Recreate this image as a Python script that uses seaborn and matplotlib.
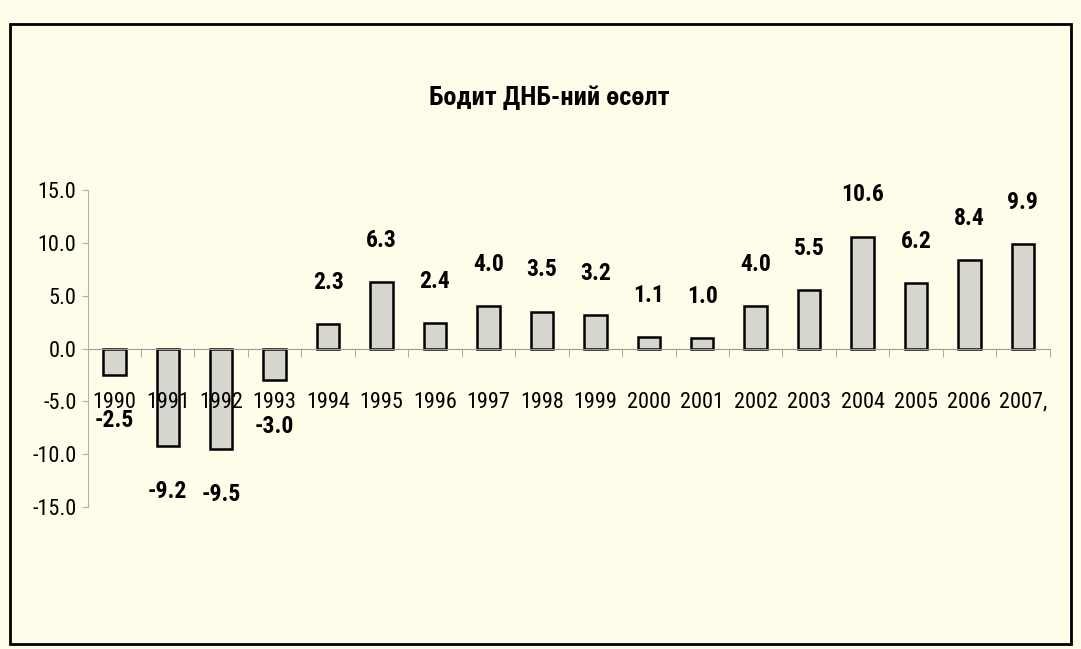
import matplotlib
matplotlib.use("Agg")
import matplotlib.pyplot as plt
import matplotlib.patches as mpatches
import pandas as pd
import seaborn as sns

years = [str(y) for y in range(1990, 2008)]
growth = [-2.5, -9.2, -9.5, -3.0, 2.3, 6.3, 2.4, 4.0, 3.5, 3.2,
          1.1, 1.0, 4.0, 5.5, 10.6, 6.2, 8.4, 9.9]
year_labels = years[:-1] + ["2007,"]
yticks = [15, 10, 5, 0, -5, -10, -15]
ytick_labels = ["15.0", "10.0", "5.0", "0.0", "-5.0", "-10.0", "-15.0"]
title = "Бодит ДНБ-ний өсөлт"

sns.set_style("white", {"axes.axisbelow": False})
plt.rcParams['font.family'] = ['Liberation Sans Narrow', 'Arial Narrow', 'Roboto Condensed',
                               'PT Sans Narrow', 'Archivo Narrow', 'Liberation Sans', 'DejaVu Sans']
plt.rcParams['text.color'] = 'black'
plt.rcParams['xtick.color'] = 'black'
plt.rcParams['ytick.color'] = 'black'

bg = "#fffdea"
df = pd.DataFrame({"year": years, "growth": growth})

fig = plt.figure(figsize=(10.81, 6.49), dpi=100, facecolor=bg)
ax = fig.add_axes([0.081, 0.219, 0.89, 0.488])
ax.set_facecolor(bg)

sns.barplot(data=df, x="year", y="growth", color="#d6d6cf", edgecolor="black",
            linewidth=1.8, width=0.42, saturation=1, ax=ax)

ax.set_ylim(-15, 15)
ax.set_xlim(-0.5, len(years) - 0.5)
ax.set_yticks(yticks)
ax.set_yticklabels(ytick_labels)
ax.set_xticks(range(len(years)))
ax.set_xticklabels(year_labels)
ax.set_xlabel("")
ax.set_ylabel("")
ax.set_axisbelow(False)

# x axis sits on zero, labels well below it (level with -5)
ax.spines["bottom"].set_position(("data", 0))
ax.spines["bottom"].set_color("#9a9a9a")
ax.spines["bottom"].set_linewidth(0.8)
ax.spines["left"].set_color("#b0b0b0")
ax.spines["left"].set_linewidth(0.8)
ax.spines["top"].set_visible(False)
ax.spines["right"].set_visible(False)
ax.tick_params(axis="x", which="major", length=0, pad=31, labelsize=16)
ax.tick_params(axis="y", length=4, color="#b0b0b0", left=True, pad=4, labelsize=16,
               labelcolor="black")

# tick marks between categories
ax.set_xticks([i + 0.5 for i in range(len(years))], minor=True)
ax.tick_params(axis="x", which="minor", length=6, color="#9a9a9a", bottom=True)

for i, v in enumerate(growth):
    off = 30 if v > 0 else -33
    ax.annotate(f"{v:.1f}", (i, v), xytext=(0, off), textcoords="offset points",
                ha="center", va="center", fontsize=17, fontweight="bold", zorder=6)

fig.text(0.508, 0.85, title, ha="center", va="center", fontsize=19, fontweight="bold")

fig.patches.append(mpatches.Rectangle((0.009, 0.008), 0.982, 0.955, transform=fig.transFigure,
                                      fill=False, edgecolor="black", linewidth=2))

fig.savefig("out.png", dpi=100, facecolor=bg)
